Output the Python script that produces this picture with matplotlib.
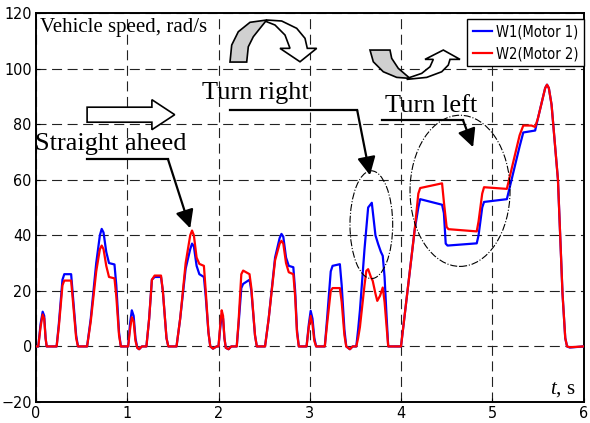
import matplotlib
matplotlib.use('Agg')
from matplotlib import pyplot as plt
from matplotlib import patches

plt.rcParams['font.family'] = ['DejaVu Sans']
plt.rcParams['font.stretch'] = 'condensed'
plt.rcParams['mathtext.fontset'] = 'custom'
plt.rcParams['mathtext.rm'] = 'Liberation Serif'
plt.rcParams['mathtext.it'] = 'Liberation Serif:italic'

# W1 (Motor 1) - blue
t_w1 = [0.00, 0.025, 0.05, 0.073, 0.09, 0.105, 0.117, 0.226, 0.25, 0.29, 0.31, 0.385, 0.40, 0.44, 0.46,
        0.56, 0.60, 0.66, 0.70, 0.72, 0.74, 0.77, 0.80, 0.86, 0.88, 0.91, 0.93,
        1.01, 1.03, 1.05, 1.07, 1.09, 1.11, 1.13, 1.16, 1.21, 1.24, 1.27, 1.30, 1.37, 1.39, 1.43, 1.45,
        1.54, 1.58, 1.64, 1.69, 1.71, 1.73, 1.76, 1.79, 1.84, 1.86, 1.89, 1.91, 1.94, 1.98,
        2.00, 2.02, 2.035, 2.05, 2.065, 2.08, 2.11, 2.14, 2.20, 2.22, 2.25, 2.27, 2.34, 2.36, 2.40, 2.42,
        2.51, 2.55, 2.62, 2.67, 2.69, 2.71, 2.74, 2.77, 2.82, 2.84, 2.86, 2.88,
        2.965, 2.99, 3.01, 3.03, 3.05, 3.07, 3.165, 3.19, 3.23, 3.25, 3.33, 3.35, 3.38, 3.40, 3.44, 3.47,
        3.51, 3.53, 3.55, 3.60, 3.64, 3.68, 3.70, 3.72, 3.75, 3.78, 3.80, 3.82, 3.84, 3.86,
        4.00, 4.05, 4.10, 4.15, 4.19, 4.21, 4.45, 4.47, 4.49, 4.51, 4.83, 4.85, 4.89, 4.91, 5.16,
        5.30, 5.34, 5.47, 5.50, 5.58, 5.60, 5.62, 5.65, 5.72, 5.77, 5.80, 5.82, 5.85, 6.00]
v_w1 = [0, 0, 8, 12.5, 11, 3, 0, 0, 8, 24, 26, 26, 20, 4, 0,
        0, 10, 30, 40, 42.3, 41, 34, 30, 29.5, 22, 5, 0,
        0, 8, 13, 11, 3, -0.5, -1, 0, 0, 10, 24, 25, 25, 20, 3, 0,
        0, 10, 28, 35, 37, 36, 29, 26, 25, 18, 5, 0, -0.8, 0,
        0, 7, 11, 10, 3, -0.5, -1, 0, 0, 8, 21, 22.5, 24, 20, 4, 0,
        0, 10, 32, 39, 40.5, 39.5, 32, 29, 28.5, 20, 6, 0,
        0, 8, 12.8, 10, 3, 0, 0, 10, 27, 29, 29.6, 22, 6, 0, -1, 0,
        0, 6, 13, 35, 50, 51.7, 46, 40, 36.8, 34, 32.6, 25, 12, 0,
        0, 14, 28, 42, 50, 53, 51, 48, 37, 36.3, 37.1, 40, 50, 52, 53,
        72, 77, 77.7, 82, 93, 94.2, 93, 87, 60, 19, 3, 0, -0.4, 0]

# W2 (Motor 2) - red
t_w2 = [0.00, 0.025, 0.05, 0.073, 0.09, 0.105, 0.117, 0.226, 0.25, 0.29, 0.31, 0.385, 0.40, 0.44, 0.46,
        0.56, 0.60, 0.66, 0.70, 0.72, 0.74, 0.77, 0.80, 0.86, 0.88, 0.91, 0.93,
        1.01, 1.03, 1.05, 1.07, 1.09, 1.11, 1.13, 1.16, 1.21, 1.24, 1.27, 1.30, 1.37, 1.39, 1.43, 1.45,
        1.54, 1.58, 1.64, 1.69, 1.71, 1.73, 1.76, 1.79, 1.84, 1.86, 1.89, 1.91, 1.94, 1.98,
        2.00, 2.02, 2.035, 2.05, 2.065, 2.08, 2.11, 2.14, 2.20, 2.22, 2.25, 2.27, 2.34, 2.36, 2.40, 2.42,
        2.51, 2.55, 2.62, 2.67, 2.69, 2.71, 2.74, 2.77, 2.82, 2.84, 2.86, 2.88,
        2.965, 2.99, 3.01, 3.03, 3.05, 3.07, 3.165, 3.19, 3.23, 3.25, 3.33, 3.35, 3.38, 3.40, 3.44, 3.47,
        3.51, 3.53, 3.55, 3.60, 3.62, 3.64, 3.67, 3.69, 3.72, 3.74, 3.77, 3.80, 3.82, 3.84, 3.86,
        4.00, 4.05, 4.10, 4.15, 4.19, 4.21, 4.45, 4.47, 4.50, 4.52, 4.83, 4.85, 4.89, 4.91, 5.16,
        5.30, 5.34, 5.43, 5.47, 5.50, 5.58, 5.60, 5.62, 5.65, 5.72, 5.77, 5.80, 5.82, 5.85, 6.00]
v_w2 = [0, 0, 7, 11.5, 10, 3, 0, 0, 7, 22, 23.7, 23.7, 18, 3, 0,
        0, 9, 27, 35, 36.3, 35, 29, 25, 24.5, 18, 4, 0,
        0, 6, 10.5, 9, 2, -0.5, -1, 0, 0, 10, 24, 25.5, 25.5, 20, 3, 0,
        0, 10, 30, 40, 41.7, 40, 32, 29.7, 29, 20, 5, 0, -0.8, 0,
        0, 8, 13, 11, 3, -0.5, -1, 0, 0, 9, 26, 27.3, 26, 21, 4, 0,
        0, 10, 31, 37, 38, 37, 30, 26.7, 26, 18, 5, 0,
        0, 7, 11, 8, 2, 0, 0, 8, 20, 21, 21, 16, 4, 0, -1, 0,
        0, 3, 7, 22, 27.2, 27.8, 25, 23.6, 19, 16.4, 18.2, 21.2, 16, 8, 0,
        0, 14, 28, 42, 55, 57, 58.7, 52, 43, 42.2, 41.4, 45, 55, 57.3, 56.7,
        76, 79.5, 79.5, 79, 82, 93, 94.2, 93, 87, 60, 19, 3, 0, -0.3, 0]

x_ticks = [0, 1, 2, 3, 4, 5, 6]
y_ticks = [-20, 0, 20, 40, 60, 80, 100, 120]


def px(x, y):
    # reference picture pixels -> data coordinates
    return ((x - 36) / 91.25, (346 - y) / 2.775)


fig = plt.figure(figsize=(5.9, 4.23), dpi=100)
ax = fig.add_axes([36 / 590, 1 - 402 / 423, 547.5 / 590, 389 / 423])

ax.plot(t_w1, v_w1, color='#0000ff', lw=1.6, label='W1(Motor 1)', zorder=3)
ax.plot(t_w2, v_w2, color='#ff0000', lw=1.6, label='W2(Motor 2)', zorder=3)

ax.set_xlim(0, 6)
ax.set_ylim(-20, 120)
ax.set_xticks(x_ticks)
ax.set_yticks(y_ticks)
ax.tick_params(direction='in', length=3, labelsize=11.5, pad=3)
ax.grid(True, color='#222222', linestyle=(0, (9, 5)), lw=0.8)
for s in ax.spines.values():
    s.set_linewidth(1.4)

serif = dict(family='Liberation Serif', fontstretch='normal')
ax.text(0.044, 113.3, 'Vehicle speed, rad/s', fontsize=15, **serif)
ax.text(-0.01, 70.6, 'Straight aheed', fontsize=19, zorder=5, **serif)
ax.text(1.82, 89.2, 'Turn right', fontsize=19, zorder=5, **serif)
ax.text(3.82, 84.4, 'Turn left', fontsize=19, zorder=5, **serif)
ax.text(5.63, -16.9, '$t$, s', fontsize=15, **serif)

# underlines + pointing arrows
arrows = [((0.56, 1.446), 67.4, (1.69, 42.5)),
          ((2.13, 3.52), 85.0, (3.66, 61.6)),
          ((3.79, 4.68), 81.4, (4.79, 71.7))]
for (x0, x1), yl, tip in arrows:
    ax.plot([x0, x1], [yl, yl], color='k', lw=1.6, zorder=5)
    ax.annotate('', xy=tip, xytext=(x1, yl), zorder=5,
                arrowprops=dict(arrowstyle='-|>,head_length=1.1,head_width=0.55',
                                mutation_scale=10, lw=1.6, color='k',
                                shrinkA=0, shrinkB=0))

# straight block arrow
ax.add_patch(patches.FancyArrow(0.56, 83.4, 0.96, 0, width=5.4, head_width=10.8,
                                head_length=0.25, length_includes_head=True,
                                fc='white', ec='k', lw=1.2, zorder=5))

# curved arrows (turn right / turn left)
gray_r = [(230, 62), (231.7, 45), (238.3, 31.7), (250, 22.3), (266.7, 20), (260, 28.3),
          (253.3, 36.7), (248.3, 46.7), (246.7, 62)]
white_r = [(266.7, 20), (281.7, 21), (296.7, 28.3), (305, 38.3), (307.3, 48.3), (316.7, 48.3),
           (300, 61.7), (280, 48.3), (290, 48.3), (285, 35), (275, 25), (266.7, 21.7)]
gray_l = [(370, 50), (373.3, 61.7), (383.3, 71.7), (396.7, 77.3), (410, 78.3), (398.3, 68.3),
          (391.7, 58.3), (390, 50)]
white_l = [(406.7, 79.3), (426.7, 77.3), (441.7, 71.7), (448.3, 65), (450, 59.3), (460, 59.3),
           (443.3, 50), (425, 59.3), (433.3, 59.3), (430, 66.7), (421.7, 73.3), (410, 77.3)]
for pts, fc in [(gray_r, '#d0d0d0'), (white_r, 'white'), (gray_l, '#d0d0d0'), (white_l, 'white')]:
    ax.add_patch(patches.Polygon([px(*p) for p in pts], closed=True, fc=fc, ec='k',
                                 lw=1.2, zorder=6, clip_on=False))

# dash-dot ellipses
ax.add_patch(patches.Ellipse((3.675, 43.8), 0.468, 38.8, fill=False, ec='k', ls='-.', lw=0.8, zorder=4))
ax.add_patch(patches.Ellipse((4.647, 56.0), 1.096, 54.4, fill=False, ec='k', ls='-.', lw=0.8, zorder=4))

leg = ax.legend(loc='upper right', bbox_to_anchor=(1, 1 - 6 / 389), borderaxespad=0,
                fontsize=10.5, handlelength=1.3, handletextpad=0.3, fancybox=False,
                framealpha=1, edgecolor='k', borderpad=0.35)
leg.get_frame().set_linewidth(1.0)
leg.set_zorder(7)

fig.savefig('out.png', dpi=100)
